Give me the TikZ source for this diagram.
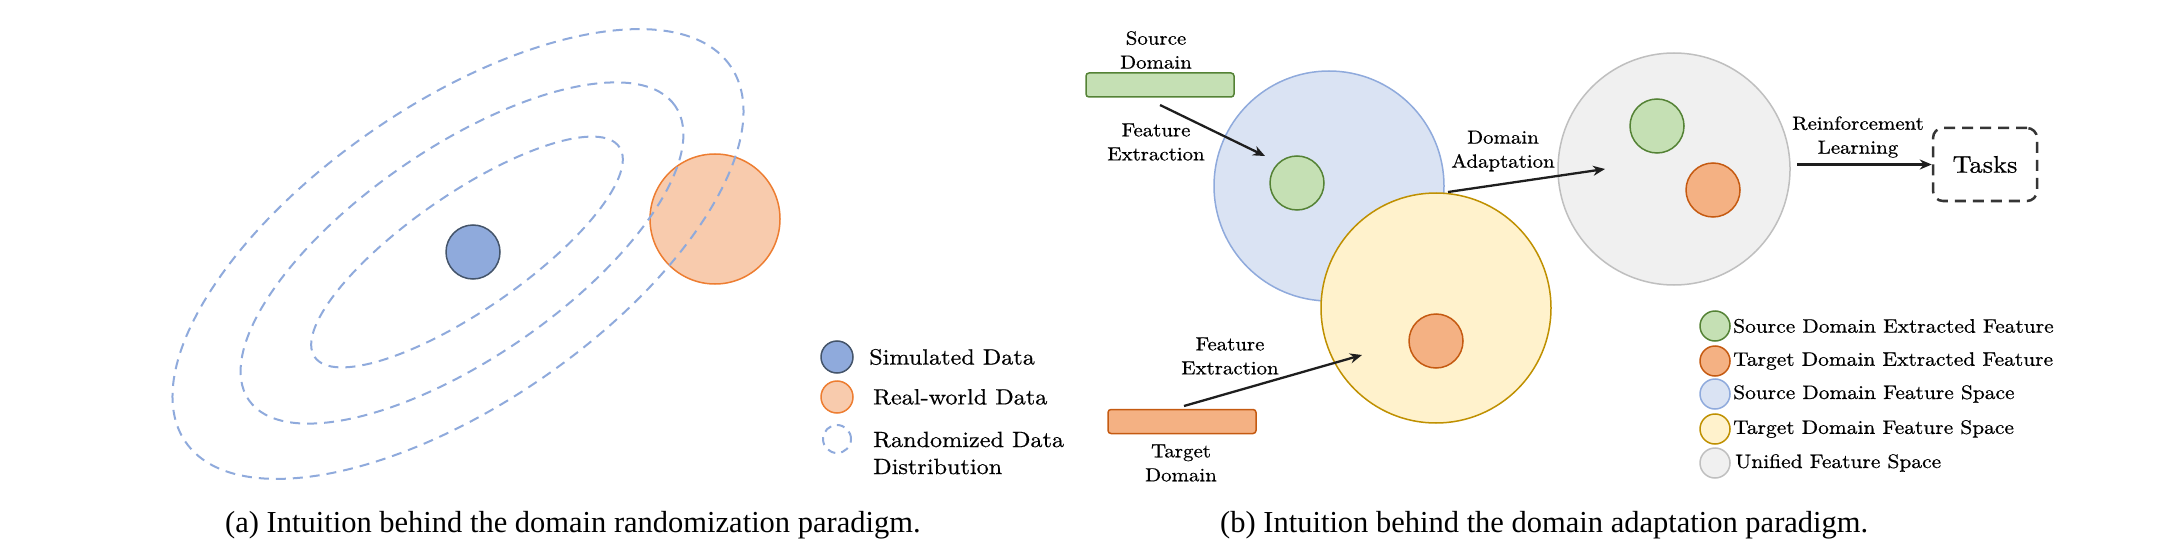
\documentclass[tikz,border=0pt]{standalone}
\usepackage{fontspec}
\newfontfamily\capfont{Liberation Serif}
\newfontfamily\diagfont{lmroman10-regular.otf}[FakeStretch=1.1,FakeBold=0.6]
\usetikzlibrary{arrows.meta}
\definecolor{simfill}{HTML}{8FAADC}
\definecolor{simdraw}{HTML}{44546A}
\definecolor{realfill}{HTML}{F8CBAD}
\definecolor{realdraw}{HTML}{ED7D31}
\definecolor{grnfill}{HTML}{C5E0B4}
\definecolor{grndraw}{HTML}{548235}
\definecolor{orgfill}{HTML}{F4B183}
\definecolor{orgdraw}{HTML}{C55A11}
\definecolor{bluefill}{HTML}{DAE3F3}
\definecolor{bluedraw}{HTML}{8FAADC}
\definecolor{yelfill}{HTML}{FFF2CC}
\definecolor{yeldraw}{HTML}{BF9000}
\definecolor{grayfill}{HTML}{F0F0F0}
\definecolor{graydraw}{HTML}{BFBFBF}
\definecolor{arrcol}{HTML}{1E1E1E}
\begin{document}
\begin{tikzpicture}[x=1pt,y=-1pt,
  dot/.style={circle,inner sep=0pt,line width=1.5pt},
  dashring/.style={draw=bluedraw,line width=2pt,dash pattern=on 10pt off 7pt},
  bar/.style={rectangle,rounded corners=3pt,inner sep=0pt,minimum width=148pt,minimum height=24pt,line width=1.5pt},
  lbl/.style={align=center,font=\diagfont\fontsize{19}{24}\selectfont,inner sep=0pt},
  leglbl/.style={anchor=west,font=\diagfont\fontsize{19.5}{24}\selectfont,inner sep=0pt},
  alegl/.style={anchor=west,align=left,font=\diagfont\fontsize{22}{27}\selectfont,inner sep=0pt},
  arr/.style={draw=arrcol,line width=2.3pt,-{Stealth[length=12pt,width=10pt]}},
  captext/.style={anchor=base west,font=\capfont\fontsize{30.5}{34}\selectfont,inner sep=0pt}]
\useasboundingbox (0,0) rectangle (2183,548);

% ---------- panel (a) ----------
\node[dot,fill=realfill,draw=realdraw,minimum size=130pt] (real) at (715,219) {};
\draw[dashring,rotate around={34.6:(467,252)}] (467,252) ellipse [x radius=185pt,y radius=58pt];
\draw[dashring,rotate around={34.6:(462,253)}] (462,253) ellipse [x radius=259pt,y radius=105pt];
\draw[dashring,rotate around={34.6:(458,254)}] (458,254) ellipse [x radius=331pt,y radius=150pt];
\node[dot,fill=simfill,draw=simdraw,minimum size=54pt] (sim) at (473,252) {};

% legend (a)
\node[dot,fill=simfill,draw=simdraw,minimum size=32pt] (lsim) at (837,357) {};
\node[dot,fill=realfill,draw=realdraw,minimum size=32pt] (lreal) at (837,397) {};
\node[circle,inner sep=0pt,minimum size=28pt,draw=bluedraw,line width=2pt,dash pattern=on 8pt off 6pt] (lrand) at (837,439) {};
\node[alegl] (tsim) at (869,357) {Simulated Data};
\node[alegl] (treal) at (873,397) {Real-world Data};
\node[alegl] (trand) at (873,453) {Randomized Data\\Distribution};

\node[captext] (capa) at (225,532) {(a) Intuition behind the domain randomization paradigm.};

% ---------- panel (b) ----------
\node[bar,fill=grnfill,draw=grndraw] (src) at (1160,85) {};
\node[lbl] (tsrc) at (1156,50) {Source\\Domain};
\node[bar,fill=orgfill,draw=orgdraw] (tgt) at (1182,421.5) {};
\node[lbl] (ttgt) at (1181,463) {Target\\Domain};

\node[dot,fill=bluefill,draw=bluedraw,minimum size=230pt] (sspace) at (1329,186) {};
\node[dot,fill=grnfill,draw=grndraw,minimum size=54pt] (sfeat) at (1297,183) {};
\node[dot,fill=yelfill,draw=yeldraw,minimum size=230pt] (tspace) at (1436,308) {};
\node[dot,fill=orgfill,draw=orgdraw,minimum size=54pt] (tfeat) at (1436,341) {};

\node[dot,fill=grayfill,draw=graydraw,minimum size=232pt] (uspace) at (1674,169) {};
\node[dot,fill=grnfill,draw=grndraw,minimum size=54pt] (usf) at (1657,126) {};
\node[dot,fill=orgfill,draw=orgdraw,minimum size=54pt] (utf) at (1713,190) {};

\node[rectangle,rounded corners=10pt,draw=arrcol!90,line width=2.5pt,dash pattern=on 11pt off 7pt,minimum width=104pt,minimum height=73pt,inner sep=0pt,font=\diagfont\fontsize{24}{28}\selectfont] (tasks) at (1985,164.5) {Tasks};

% connectors
\coordinate (feAs) at (1160,105);
\coordinate (feAe) at (1265,156);
\coordinate (feBs) at (1184,406);
\coordinate (feBe) at (1362,355);
\coordinate (daS) at (1448,192);
\coordinate (daE) at (1605,169);
\coordinate (rlS) at (1797,164.5);
\draw[arr] (feAs) -- (feAe);
\draw[arr] (feBs) -- (feBe);
\draw[arr] (daS) -- (daE);
\draw[arr] (rlS) -- (tasks.west);

\node[lbl] (tfeA) at (1156,142) {Feature\\Extraction};
\node[lbl] (tfeB) at (1230,356) {Feature\\Extraction};
\node[lbl] (tda) at (1503,151) {Domain\\Adaptation};
\node[lbl] (trl) at (1858,137) {Reinforcement\\Learning};

% legend (b)
\node[dot,fill=grnfill,draw=grndraw,minimum size=30pt] (l1) at (1715,326) {};
\node[dot,fill=orgfill,draw=orgdraw,minimum size=30pt] (l2) at (1715,361) {};
\node[dot,fill=bluefill,draw=bluedraw,minimum size=30pt] (l3) at (1715,394) {};
\node[dot,fill=yelfill,draw=yeldraw,minimum size=30pt] (l4) at (1715,429) {};
\node[dot,fill=grayfill,draw=graydraw,minimum size=30pt] (l5) at (1715,463) {};
\node[leglbl] (t1) at (1733,326) {Source Domain Extracted Feature};
\node[leglbl] (t2) at (1733,361) {Target Domain Extracted Feature};
\node[leglbl] (t3) at (1733,394) {Source Domain Feature Space};
\node[leglbl] (t4) at (1733,429) {Target Domain Feature Space};
\node[leglbl] (t5) at (1735,463) {Unified Feature Space};

\node[captext] (capb) at (1220,532) {(b) Intuition behind the domain adaptation paradigm.};
\end{tikzpicture}
\end{document}
